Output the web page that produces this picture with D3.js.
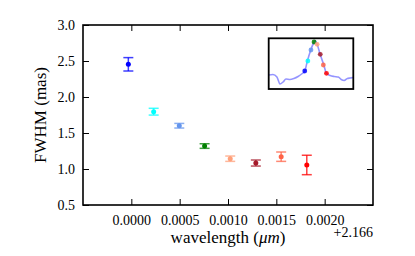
<!DOCTYPE html>
<html>
<head>
<meta charset="utf-8">
<script src="https://d3js.org/d3.v7.min.js"></script>
<style>
  body { margin: 0; background: #fff; }
  text { font-family: "Liberation Serif", "DejaVu Serif", serif; fill: #000; }
  .axis path, .axis line { stroke: #000; fill: none; }
</style>
</head>
<body>
<svg id="chart" width="415" height="256"></svg>
<script>
// wavelength offsets from 2.166 micron
var wavelengths = [-0.000031, 0.000231, 0.000496, 0.000758, 0.001023, 0.001288, 0.00155, 0.001815];
var fwhm = [2.454, 1.796, 1.601, 1.319, 1.143, 1.083, 1.171, 1.056];
var fwhmErr = [0.093, 0.047, 0.032, 0.032, 0.037, 0.042, 0.065, 0.135];
var colors = ["#0000ff", "#00ffff", "#6495ed", "#008000", "#ffa07a", "#a51a2a", "#ff6347", "#ff0000"];
var xTicks = [0, 0.0005, 0.001, 0.0015, 0.002];
var yTicks = [0.5, 1.0, 1.5, 2.0, 2.5, 3.0];

// inset spectrum (normalised flux vs wavelength offset)
var specWave = [-0.00308, -0.00274, -0.0024, -0.00214, -0.00188, -0.00163, -0.00129, -0.00095, -0.0006, -0.0003,
  -0.000031, 0.000191, 0.000481, 0.000763, 0.00085, 0.00102, 0.00128, 0.00159, 0.00181,
  0.00213, 0.00247, 0.00282, 0.00307, 0.00333, 0.00359, 0.00384, 0.0041];
var specFlux = [0.276, 0.286, 0.237, 0.099, 0.138, 0.197, 0.187, 0.207, 0.247, 0.296,
  0.355, 0.552, 0.769, 0.927, 0.957, 0.882, 0.684, 0.473, 0.31,
  0.266, 0.247, 0.237, 0.187, 0.168, 0.207, 0.217, 0.227];
var dotFlux = [0.355, 0.552, 0.769, 0.927, 0.882, 0.684, 0.473, 0.31];

var margin = {top: 25, left: 83, right: 42, bottom: 51};
var width = 415 - margin.left - margin.right,
    height = 256 - margin.top - margin.bottom;

var svg = d3.select("#chart");
var main = svg.append("g").attr("transform", "translate(" + margin.left + "," + margin.top + ")");

var x = d3.scaleLinear().domain([-0.0005, 0.0025]).range([0, width]);
var y = d3.scaleLinear().domain([0.5, 3.0]).range([height, 0]);

var tickLen = 6;
main.append("g").attr("class", "axis")
  .attr("transform", "translate(0," + height + ")")
  .call(d3.axisBottom(x).tickValues(xTicks).tickSizeInner(-tickLen).tickSizeOuter(0).tickPadding(10).tickFormat(d3.format(".4f")))
  .call(function(g) { g.select(".domain").remove(); g.selectAll("text").style("font-size", "14px").attr("font-family", null); });
main.append("g").attr("class", "axis")
  .call(d3.axisTop(x).tickValues(xTicks).tickSizeInner(-tickLen).tickSizeOuter(0).tickFormat(""))
  .call(function(g) { g.select(".domain").remove(); });
main.append("g").attr("class", "axis")
  .call(d3.axisLeft(y).tickValues(yTicks).tickSizeInner(-tickLen).tickSizeOuter(0).tickPadding(8).tickFormat(d3.format(".1f")))
  .call(function(g) { g.select(".domain").remove(); g.selectAll("text").style("font-size", "14px").attr("font-family", null); });
main.append("g").attr("class", "axis")
  .attr("transform", "translate(" + width + ",0)")
  .call(d3.axisRight(y).tickValues(yTicks).tickSizeInner(-tickLen).tickSizeOuter(0).tickFormat(""))
  .call(function(g) { g.select(".domain").remove(); });

main.selectAll(".axis line").attr("stroke-width", 1);

main.append("rect")
  .attr("width", width).attr("height", height)
  .attr("fill", "none").attr("stroke", "#000").attr("stroke-width", 1.6);

// error bars
var pts = main.append("g").selectAll("g").data(fwhm).enter().append("g");
pts.append("line")
  .attr("x1", function(d, i) { return x(wavelengths[i]); })
  .attr("x2", function(d, i) { return x(wavelengths[i]); })
  .attr("y1", function(d, i) { return y(d - fwhmErr[i]); })
  .attr("y2", function(d, i) { return y(d + fwhmErr[i]); })
  .attr("stroke", function(d, i) { return colors[i]; })
  .attr("stroke-width", 1.5).attr("opacity", 0.75);
[-1, 1].forEach(function(s) {
  pts.append("line")
    .attr("x1", function(d, i) { return x(wavelengths[i]) - 5; })
    .attr("x2", function(d, i) { return x(wavelengths[i]) + 5; })
    .attr("y1", function(d, i) { return y(d + s * fwhmErr[i]); })
    .attr("y2", function(d, i) { return y(d + s * fwhmErr[i]); })
    .attr("stroke", function(d, i) { return colors[i]; })
    .attr("stroke-width", 1.5).attr("opacity", 0.75);
});
pts.append("circle")
  .attr("cx", function(d, i) { return x(wavelengths[i]); })
  .attr("cy", function(d) { return y(d); })
  .attr("r", 2.5)
  .attr("fill", function(d, i) { return colors[i]; });

// labels
main.append("text")
  .attr("x", width / 2).attr("y", height + 38)
  .attr("text-anchor", "middle").style("font-size", "17px")
  .html("wavelength (<tspan font-style='italic'>\u03bcm</tspan>)");
main.append("text")
  .attr("x", width).attr("y", height + 32)
  .attr("text-anchor", "end").style("font-size", "14px")
  .text("+2.166");
main.append("text")
  .attr("transform", "translate(" + (46 - margin.left) + "," + (height / 2) + ") rotate(-90)")
  .attr("text-anchor", "middle").style("font-size", "17px")
  .text("FWHM (mas)");

// inset
var inset = {x: 268.7 - margin.left, y: 38.3 - margin.top, w: 84.6, h: 50.7};
var ix = d3.scaleLinear().domain([-0.0031, 0.0041]).range([0, inset.w]);
var iy = d3.scaleLinear().domain([0, 1]).range([inset.h, 0]);
var ig = main.append("g").attr("transform", "translate(" + inset.x + "," + inset.y + ")");
ig.append("rect").attr("width", inset.w).attr("height", inset.h).attr("fill", "#fff");
ig.append("path")
  .datum(specWave)
  .attr("d", d3.line().x(function(d) { return ix(d); }).y(function(d, i) { return iy(specFlux[i]); }).curve(d3.curveMonotoneX))
  .attr("fill", "none").attr("stroke", "#0000ff").attr("stroke-opacity", 0.42).attr("stroke-width", 1.6);
ig.selectAll("circle").data(dotFlux).enter().append("circle")
  .attr("cx", function(d, i) { return ix(wavelengths[i]); })
  .attr("cy", function(d) { return iy(d); })
  .attr("r", 2.4)
  .attr("fill", function(d, i) { return colors[i]; })
  .attr("opacity", 0.85);
ig.append("rect").attr("width", inset.w).attr("height", inset.h)
  .attr("fill", "none").attr("stroke", "#000").attr("stroke-width", 1.8);
</script>
</body>
</html>
